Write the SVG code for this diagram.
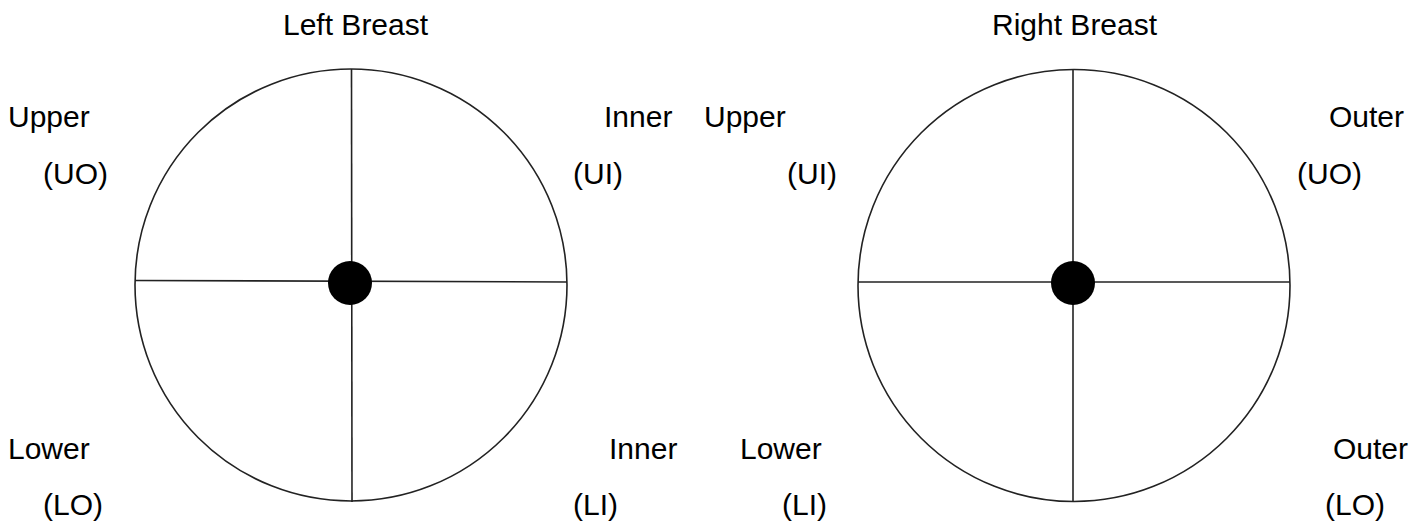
<svg xmlns="http://www.w3.org/2000/svg" width="1425" height="523" viewBox="0 0 1425 523">
<style>
text { font-family: "Liberation Sans", Arial, sans-serif; font-size: 30px; fill: #000; }
.ring { fill: none; stroke: #222; stroke-width: 1.6; }
.axis { stroke: #222; stroke-width: 1.6; }
.nip { fill: #000; }
</style>
<rect width="1425" height="523" fill="#fff"/>
<g id="left-breast">
  <circle class="ring" cx="351" cy="285" r="216"/>
  <g id="left-connectors">
    <line class="axis" x1="351.5" y1="69" x2="352" y2="502"/>
    <line class="axis" x1="135" y1="280.5" x2="567" y2="282"/>
  </g>
  <circle class="nip" cx="350" cy="283" r="22"/>
</g>
<g id="right-breast">
  <circle class="ring" cx="1074" cy="285.5" r="216"/>
  <g id="right-connectors">
    <line class="axis" x1="1073" y1="69" x2="1073" y2="502"/>
    <line class="axis" x1="858" y1="282" x2="1290" y2="282"/>
  </g>
  <circle class="nip" cx="1073" cy="283" r="22"/>
</g>
<g id="labels">
  <text x="283" y="35">Left Breast</text>
  <text x="992" y="35">Right Breast</text>
  <text x="8" y="127">Upper</text>
  <text x="43" y="184">(UO)</text>
  <text x="604" y="127">Inner</text>
  <text x="573" y="184">(UI)</text>
  <text x="704" y="127">Upper</text>
  <text x="787" y="184">(UI)</text>
  <text x="1329" y="127">Outer</text>
  <text x="1297" y="184">(UO)</text>
  <text x="8" y="459">Lower</text>
  <text x="43" y="515">(LO)</text>
  <text x="609" y="459">Inner</text>
  <text x="573" y="515">(LI)</text>
  <text x="740" y="459">Lower</text>
  <text x="782" y="515">(LI)</text>
  <text x="1333" y="459">Outer</text>
  <text x="1325" y="515">(LO)</text>
</g>
</svg>
